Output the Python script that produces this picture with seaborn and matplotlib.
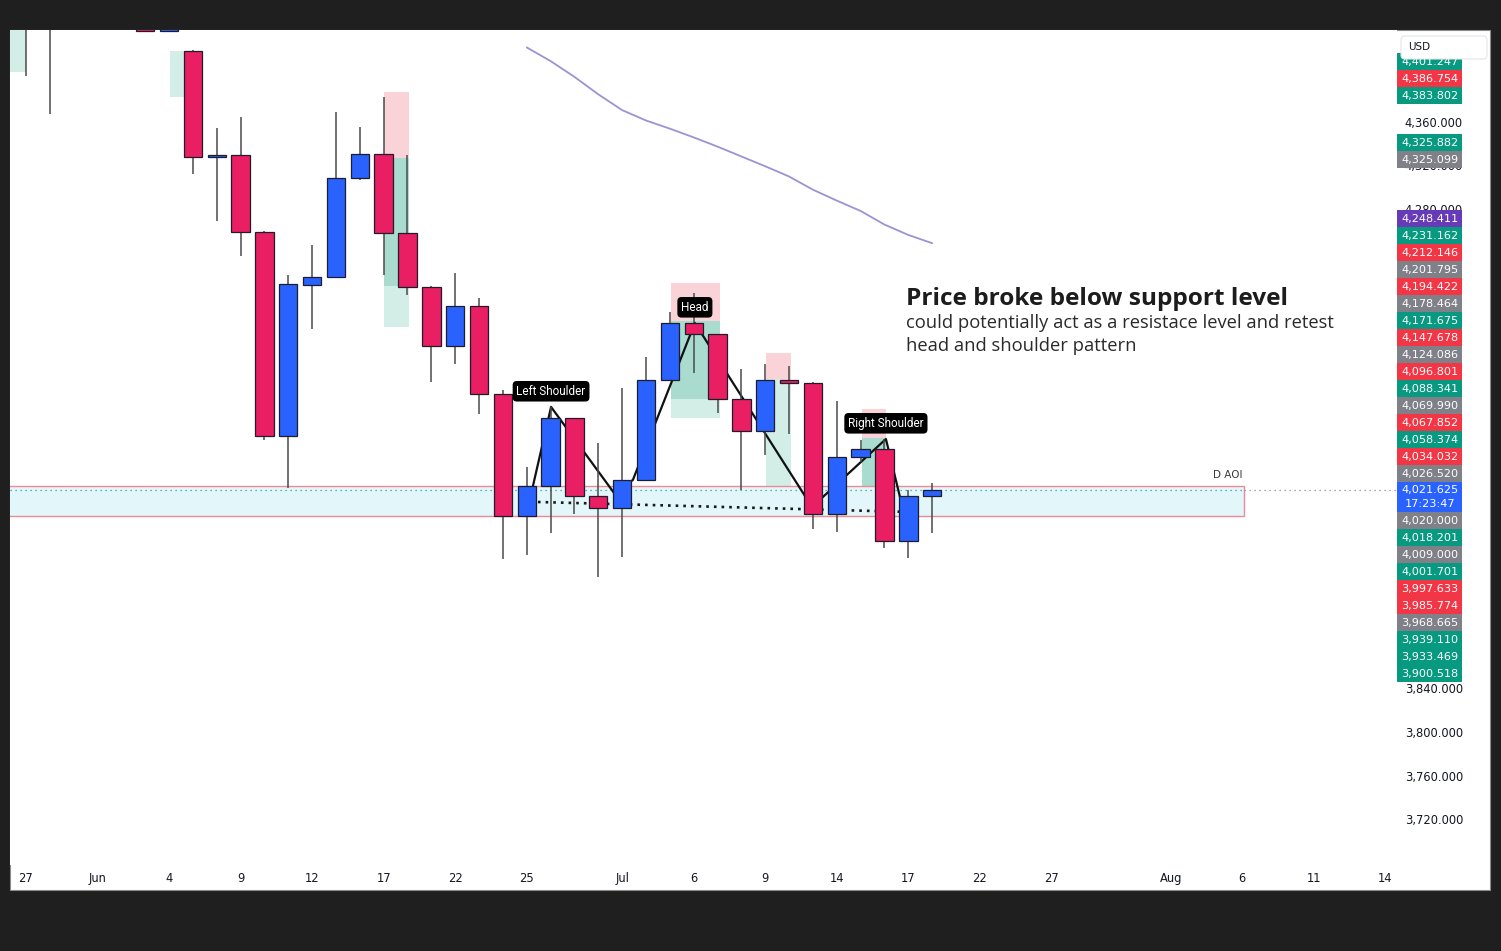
import numpy as np
import pandas as pd
import seaborn as sns
import matplotlib
matplotlib.use("Agg")
import matplotlib.pyplot as plt
from matplotlib.patches import Rectangle, FancyBboxPatch
from matplotlib.transforms import Affine2D

# ---------------- data ----------------
bar_idx = list(range(-6, 33))
opens = [4480, 4470, 4478, 4495, 4485, 4470, 4443.5,
         4424.8, 4327.5, 4329.4, 4258.7, 4071.3, 4210.1, 4217.7, 4308.5,
         4330.3, 4257.5, 4208.5, 4154.4, 4191.1, 4109.8, 3998.2, 4025.7,
         4087.8, 4016.5, 4005.8, 4031.2, 4122.9, 4175.0, 4164.9, 4105.2,
         4076.1, 4122.9, 4119.9, 4000.0, 4052.0, 4059.4, 3975.2, 4016.5]
highs = [4500, 4495, 4510, 4520, 4505, 4482, 4465,
         4425.5, 4354.1, 4364.2, 4259.5, 4219.7, 4246.5, 4369.1, 4354.8,
         4382.6, 4329.4, 4209.5, 4220.8, 4197.9, 4113.8, 4043.1, 4098.2,
         4088.5, 4065.4, 4115.3, 4143.8, 4185.6, 4202.5, 4165.5, 4133.0,
         4137.6, 4135.8, 4121.0, 4103.7, 4067.9, 4068.8, 4022.0, 4028.7]
lows = [4402, 4367, 4460, 4470, 4455, 4443, 4443,
        4311.9, 4268.8, 4236.7, 4067.9, 4023.9, 4169.7, 4217.0, 4306.4,
        4219.3, 4200.9, 4121.4, 4137.3, 4091.5, 3958.7, 3962.1, 3982.3,
        3999.7, 3942.5, 3960.3, 4030.5, 4122.0, 4129.1, 4092.7, 4022.0,
        4054.1, 4073.4, 3986.2, 3983.2, 4047.7, 3968.5, 3959.4, 3982.8]
closes = [4470, 4478, 4495, 4485, 4470, 4443.5, 4458,
          4327.5, 4329.4, 4259.0, 4071.1, 4210.7, 4217.7, 4308.5, 4330.3,
          4257.5, 4208.5, 4154.4, 4191.1, 4109.8, 3998.2, 4025.7, 4087.8,
          4016.5, 4005.8, 4031.2, 4122.9, 4175.0, 4164.9, 4105.2, 4076.1,
          4122.9, 4119.9, 4000.0, 4052.0, 4059.4, 3975.2, 4016.5, 4021.6]

ma_idx = list(range(15, 33))
ma_vals = [4428.0, 4415.5, 4401.0, 4385.0, 4370.5, 4361.0, 4353.5, 4345.5, 4337.0,
           4328.0, 4319.0, 4309.6, 4297.5, 4287.5, 4278.0, 4265.5, 4256.0, 4248.4]

tick_pos = [-6, -3, 0, 3, 6, 9, 12, 15, 19, 22, 25, 28, 31, 34, 37, 42, 45, 48, 51]
tick_labels = ["27", "Jun", "4", "9", "12", "17", "22", "25", "Jul", "6", "9",
               "14", "17", "22", "27", "Aug", "6", "11", "14"]
y_ticks = [3720, 3760, 3800, 3840, 3880, 3920, 3960, 4000, 4040, 4080, 4120,
           4160, 4200, 4240, 4280, 4320, 4360, 4400]

# head & shoulders polyline
hs_x = [15.26, 16.02, 18.66, 19.45, 22.05, 26.96, 30.06, 30.73]
hs_y = [4025.7, 4098.2, 4019.3, 4031.2, 4175.2, 4006.4, 4068.8, 4008.3]
hs_names = {1: "Left Shoulder", 4: "Head", 6: "Right Shoulder"}
neck_x = [15.47, 30.65]
neck_y = [4011.0, 4002.1]

# area of interest
aoi_x = [-8.0, 45.07]
aoi_low, aoi_high = 3998.6, 4025.7
current_price = 4021.625
countdown = "17:23:47"

# short position tools: x0, x1, stop, entry, reached, target
pos_x0 = [-8.0, 0.04, 9.01, 21.05, 25.03, 29.06]
pos_x1 = [-6.0, 1.05, 10.06, 23.10, 26.08, 30.06]
pos_stop = [4450.0, 4424.8, 4387.0, 4211.6, 4147.4, 4096.3]
pos_entry = [4450.0, 4424.8, 4326.6, 4177.3, 4123.9, 4069.4]
pos_reached = [4450.0, 4424.8, 4209.0, 4105.5, 4123.9, 4000.6]
pos_target = [4405.5, 4382.6, 4171.6, 4087.8, 4017.4, 4000.6]

# price-scale labels
label_vals = [4401.247, 4386.754, 4383.802, 4325.882, 4325.099, 4248.411, 4231.162,
              4212.146, 4201.795, 4194.422, 4178.464, 4171.675, 4147.678, 4124.086,
              4096.801, 4088.341, 4069.990, 4067.852, 4058.374, 4034.032, 4026.520,
              4020.000, 4018.201, 4009.000, 4001.701, 3997.633, 3985.774, 3968.665,
              3939.110, 3933.469, 3900.518]
label_kinds = ["g", "r", "g", "g", "k", "p", "g", "r", "k", "r", "k", "g", "r", "k",
               "r", "g", "k", "r", "g", "r", "k", "k", "g", "k", "g", "r", "r", "k",
               "g", "g", "g"]

# ---------------- style ----------------
UP = "#2962ff"
DN = "#e91e63"
KIND_COL = {"g": "#089981", "r": "#f23645", "k": "#7f8088", "p": "#673ab7"}

sns.set_theme(style="white")
plt.rcParams["font.family"] = ["DejaVu Sans"]

W, H = 1501, 951
fig = plt.figure(figsize=(W / 100, H / 100), dpi=100, facecolor="#1f1f1f")
PX = Affine2D().scale(1, -1).translate(0, H).scale(1 / W, 1 / H) + fig.transFigure

fig.add_artist(Rectangle((10, 30), 1480, 860, transform=PX, facecolor="white",
                         edgecolor="#8c8c8c", lw=0.8, zorder=-5))

ax = fig.add_axes([10 / W, (H - 865) / H, 1387 / W, 835 / H])
ax.set_facecolor("white")
for s in ax.spines.values():
    s.set_visible(False)

# position tools
for x0, x1, st, en, re, tg in zip(pos_x0, pos_x1, pos_stop, pos_entry, pos_reached, pos_target):
    if st > en:
        ax.add_patch(Rectangle((x0, en), x1 - x0, st - en, facecolor="#f9d3d7", edgecolor="none", zorder=1))
    if en > re:
        ax.add_patch(Rectangle((x0, re), x1 - x0, en - re, facecolor="#a9dccf", edgecolor="none", zorder=1))
    if re > tg:
        ax.add_patch(Rectangle((x0, tg), x1 - x0, re - tg, facecolor="#d2eee7", edgecolor="none", zorder=1))

# area of interest
ax.add_patch(Rectangle((aoi_x[0], aoi_low), aoi_x[1] - aoi_x[0], aoi_high - aoi_low,
                       facecolor="#e3f6f9", edgecolor="#ee8a95", lw=1.0, zorder=1.5))
ax.annotate("D AOI", (aoi_x[1], aoi_high), xytext=(-1, 8), textcoords="offset points",
            ha="right", va="center", fontsize=7.5, color="#3a3a3a", zorder=6)

xmin, xmax = -6.667, 51.49
ax.plot([xmin, aoi_x[1]], [current_price, current_price], color="#2f9aa6",
        lw=0.9, ls=(0, (1, 3)), zorder=1.8)
ax.plot([aoi_x[1], xmax], [current_price, current_price], color="#8a8a8a",
        lw=0.9, ls=(0, (1, 3)), zorder=1.8)

# neckline
ax.plot(neck_x, neck_y, color="#1a1a1a", lw=1.9, ls=(0, (1, 1.9)), zorder=2.6,
        dash_capstyle="butt")

# moving average
sns.lineplot(x=ma_idx, y=ma_vals, ax=ax, color="#9c92d4", lw=1.3, estimator=None, zorder=3)
# pattern polyline
sns.lineplot(x=hs_x, y=hs_y, ax=ax, sort=False, estimator=None, color="#111111", lw=1.6, zorder=2.7)

# candles
df = pd.DataFrame(dict(i=bar_idx, o=opens, h=highs, l=lows, c=closes))
up = (df.c >= df.o).to_numpy()
cols = np.where(up, UP, DN)
body_lo = np.minimum(df.o, df.c)
body_h = np.maximum(np.abs(df.c - df.o), 0.9)
ax.vlines(df.i, df.l, df.h, color="#4a4a4a", lw=1.1, zorder=3.5)
ax.bar(df.i, body_h, bottom=body_lo, width=0.77, color=cols, edgecolor="#1d1d2b",
       linewidth=0.9, zorder=4)

# pattern labels
for k, name in hs_names.items():
    ax.annotate(name, (hs_x[k], hs_y[k]), xytext=(0, 11.3), textcoords="offset points",
                ha="center", va="center", color="white", fontsize=8.5, family="Roboto",
                bbox=dict(boxstyle="round,pad=0.32,rounding_size=0.35", fc="black", ec="none"),
                zorder=10)

ax.set_xlim(xmin, xmax)
ax.set_ylim(3678.0, 4444.0)
ax.set_xlabel("")
ax.set_ylabel("")
ax.set_xticks(tick_pos)
ax.set_xticklabels(tick_labels)
ax.tick_params(axis="both", length=0, labelsize=8.3, colors="#131722")
ax.tick_params(axis="x", pad=5)
ax.grid(False)


def img_y(price):
    return H - ax.transData.transform((0, price))[1]


# ---------------- price scale labels (stacked like the price scale) ----------------
LX0, LX1 = 1397, 1462
yc = img_y(current_price)
above = sorted([(v, k) for v, k in zip(label_vals, label_kinds) if v > current_price])
below = sorted([(v, k) for v, k in zip(label_vals, label_kinds) if v <= current_price], reverse=True)
placed = []
top_edge = yc - 8
for v, k in above:
    y = min(img_y(v), top_edge - 8.5)
    placed.append((v, k, y))
    top_edge = y - 8.5
bot_edge = yc + 22
for v, k in below:
    y = max(img_y(v), bot_edge + 8.5)
    placed.append((v, k, y))
    bot_edge = y + 8.5
spans = [(y - 8.5, y + 8.5) for _, _, y in placed] + [(yc - 8, yc + 22), (36, 59)]


def covered(a, b):
    # is the pixel interval [a, b] entirely under the label boxes?
    pos = a
    changed = True
    while changed and pos < b:
        changed = False
        for s0, s1 in spans:
            if s0 <= pos + 0.01 and s1 > pos:
                pos = s1
                changed = True
    return pos >= b


# y ticks: those fully hidden behind price labels are not drawn
vis_ticks = [t for t in y_ticks if not covered(img_y(t) - 4, img_y(t) + 4)]
ax.yaxis.tick_right()
ax.set_yticks(vis_ticks)
ax.set_yticklabels([f"{v:,.3f}" for v in vis_ticks])
ax.tick_params(axis="y", length=0, pad=5.5, labelsize=8.3, colors="#131722")

fig.add_artist(Rectangle((LX0, yc - 8), LX1 - LX0, 30, transform=PX, facecolor=UP,
                         edgecolor="none", zorder=5))
fig.text((LX0 + LX1) / 2, yc, f"{current_price:,.3f}", transform=PX, ha="center",
         va="center", color="white", fontsize=8.1, zorder=6)
fig.text((LX0 + LX1) / 2, yc + 14, countdown, transform=PX, ha="center",
         va="center", color="white", fontsize=8.1, zorder=6)
for v, k, y in placed:
    fig.add_artist(Rectangle((LX0, y - 8.5), LX1 - LX0, 17, transform=PX,
                             facecolor=KIND_COL[k], edgecolor="none", zorder=5))
    fig.text((LX0 + LX1) / 2, y, f"{v:,.3f}", transform=PX, ha="center", va="center",
             color="white", fontsize=8.1, zorder=6)

# USD box
fig.add_artist(FancyBboxPatch((1401, 36), 86, 23, boxstyle="round,pad=0,rounding_size=4",
                              transform=PX, facecolor="white", edgecolor="#e3e5ea", lw=0.8, zorder=7))
fig.text(1408, 47.5, "USD", transform=PX, ha="left", va="center", fontsize=7.5,
         color="#131722", zorder=8)

# annotation text
fig.text(906, 299, "Price broke below support level", transform=PX, ha="left", va="center",
         fontsize=17.6, fontweight="bold", family="Open Sans", color="#1c1c1c", zorder=8)
fig.text(906, 323, "could potentially act as a resistace level and retest", transform=PX,
         ha="left", va="center", fontsize=13.2, family="Open Sans", color="#2a2a2a", zorder=8)
fig.text(906, 346, "head and shoulder pattern", transform=PX,
         ha="left", va="center", fontsize=13.2, family="Open Sans", color="#2a2a2a", zorder=8)

fig.savefig("out.png", dpi=100, facecolor=fig.get_facecolor())
